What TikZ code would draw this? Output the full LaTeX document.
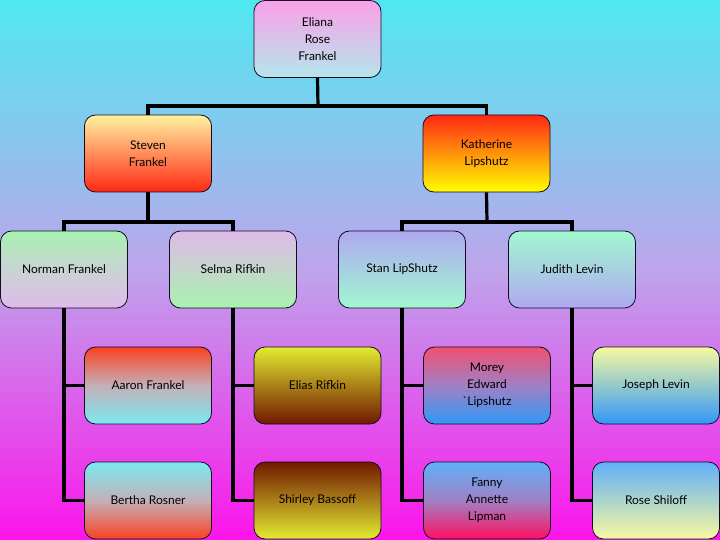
\documentclass[tikz,border=0pt]{standalone}
\usepackage{fontspec}
\setmainfont{Lato}
\definecolor{bgtop}{RGB}{80,232,240}
\definecolor{bgmid}{RGB}{190,165,235}
\definecolor{bgbot}{RGB}{252,20,235}
\definecolor{pinkA}{RGB}{250,160,232}
\definecolor{cyanA}{RGB}{180,230,235}
\definecolor{ylwL}{RGB}{255,242,160}
\definecolor{redA}{RGB}{255,40,20}
\definecolor{ylwB}{RGB}{255,255,0}
\definecolor{greenL}{RGB}{168,242,176}
\definecolor{grayM}{RGB}{200,212,212}
\definecolor{lilac}{RGB}{224,186,232}
\definecolor{lav}{RGB}{176,168,242}
\definecolor{mint}{RGB}{160,248,208}
\definecolor{redB}{RGB}{250,64,32}
\definecolor{grayP}{RGB}{196,176,184}
\definecolor{cyanB}{RGB}{124,232,240}
\definecolor{ylwG}{RGB}{226,236,48}
\definecolor{brown}{RGB}{112,24,0}
\definecolor{olive}{RGB}{170,128,24}
\definecolor{pinkR}{RGB}{242,80,112}
\definecolor{purpM}{RGB}{160,128,196}
\definecolor{blueB}{RGB}{48,152,248}
\definecolor{ylwP}{RGB}{248,248,160}
\definecolor{blueL}{RGB}{96,176,248}
\definecolor{hotpink}{RGB}{255,16,96}
\definecolor{outline}{RGB}{20,10,40}
\tikzset{
  person/.style={draw=outline, line width=0.8pt, rounded corners=11pt,
    minimum width=127pt, minimum height=77pt, align=center,
    font=\fontsize{12}{17}\selectfont, inner sep=2pt},
  link/.style={line width=3.2pt, black}
}
\begin{document}
\begin{tikzpicture}[x=1pt,y=-1pt]
\useasboundingbox (0,0) rectangle (720,540);
\fill[top color=bgtop, bottom color=bgbot, middle color=bgmid] (0,0) rectangle (720,540);

% connector junction points
\coordinate (j1) at (318,106);
\coordinate (j2) at (148,222);
\coordinate (j3) at (487,222);

% nodes
\node[person, top color=pinkA, bottom color=cyanA] (eliana) at (317.5,39) {Eliana\\Rose\\Frankel};
\node[person, top color=ylwL, bottom color=redA] (steven) at (148,153.5) {Steven\\Frankel};
\node[person, top color=redA, bottom color=ylwB] (kath) at (486.5,153.5) {Katherine\\Lipshutz};

\node[person, top color=greenL, bottom color=lilac, middle color=grayM] (norman) at (64,269.5) {Norman Frankel};
\node[person, top color=lilac, bottom color=greenL] (selma) at (233,269.5) {Selma Rifkin};
\node[person, top color=lav, bottom color=mint] (stan) at (402,269.5) {Stan LipShutz};
\node[person, top color=mint, bottom color=lav] (judith) at (572,269.5) {Judith Levin};

\node[person, top color=redB, bottom color=cyanB, middle color=grayP] (aaron) at (148,385.5) {Aaron Frankel};
\node[person, top color=ylwG, bottom color=brown, middle color=olive] (elias) at (317.5,385.5) {Elias Rifkin};
\node[person, top color=pinkR, bottom color=blueB, middle color=purpM] (morey) at (487,385.5) {Morey\\Edward\\\textasciigrave Lipshutz};
\node[person, top color=ylwP, bottom color=blueB] (joseph) at (656,385.5) {Joseph Levin};

\node[person, top color=cyanB, bottom color=redB, middle color=grayP] (bertha) at (148,500.5) {Bertha Rosner};
\node[person, top color=brown, bottom color=ylwG, middle color=olive] (shirley) at (317.5,500.5) {Shirley Bassoff};
\node[person, top color=blueL, bottom color=hotpink, middle color=purpM] (fanny) at (487,500.5) {Fanny\\Annette\\Lipman};
\node[person, top color=blueL, bottom color=ylwP] (rose) at (656,500.5) {Rose Shiloff};

% connectors
\draw[link] (eliana.south) -- (j1);
\draw[link] (steven.north) |- (j1) -| (kath.north);
\draw[link] (steven.south) -- (j2);
\draw[link] (norman.north) |- (j2) -| (selma.north);
\draw[link] (kath.south) -- (j3);
\draw[link] (stan.north) |- (j3) -| (judith.north);

\draw[link] (norman.south) |- (aaron.west);
\draw[link] (norman.south) |- (bertha.west);
\draw[link] (selma.south) |- (elias.west);
\draw[link] (selma.south) |- (shirley.west);
\draw[link] (stan.south) |- (morey.west);
\draw[link] (stan.south) |- (fanny.west);
\draw[link] (judith.south) |- (joseph.west);
\draw[link] (judith.south) |- (rose.west);
\end{tikzpicture}
\end{document}
